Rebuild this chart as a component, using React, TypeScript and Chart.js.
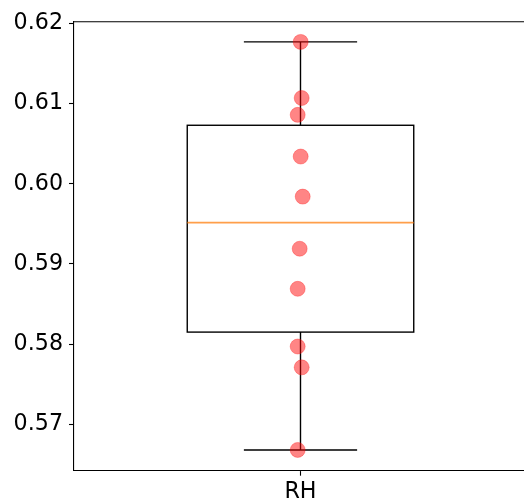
import React, { useEffect, useRef } from "react";
import { Chart, registerables } from "chart.js";

Chart.register(...registerables);

const categories = ["RH"];
const rhValues = [0.6177, 0.6107, 0.6086, 0.6034, 0.5984, 0.5919, 0.5869, 0.5797, 0.5771, 0.5668];
const rhJitter = [0.0004, 0.0026, -0.0062, 0.0004, 0.0049, -0.0018, -0.0062, -0.0062, 0.0026, -0.0062];
const yTicks = [0.57, 0.58, 0.59, 0.6, 0.61, 0.62];
const yMin = 0.56421;
const yMax = 0.62022;
const xMin = 0.5;
const xMax = 1.4934;

function quantile(sorted: number[], p: number) {
  const idx = (sorted.length - 1) * p;
  const lo = Math.floor(idx);
  const hi = Math.ceil(idx);
  return sorted[lo] + (sorted[hi] - sorted[lo]) * (idx - lo);
}

function boxStats(vals: number[]) {
  const s = [...vals].sort((a, b) => a - b);
  const q1 = quantile(s, 0.25);
  const med = quantile(s, 0.5);
  const q3 = quantile(s, 0.75);
  const iqr = q3 - q1;
  const lo = Math.min(...s.filter((v) => v >= q1 - 1.5 * iqr));
  const hi = Math.max(...s.filter((v) => v <= q3 + 1.5 * iqr));
  return { q1, med, q3, lo, hi };
}

const boxPlugin = {
  id: "boxPlugin",
  beforeDatasetsDraw(chart: any) {
    const { ctx, scales } = chart;
    const xs = scales.x;
    const ys = scales.y;
    const st = boxStats(rhValues);
    const c = 1;
    const bx0 = xs.getPixelForValue(c - 0.25);
    const bx1 = xs.getPixelForValue(c + 0.25);
    const cx0 = xs.getPixelForValue(c - 0.125);
    const cx1 = xs.getPixelForValue(c + 0.125);
    const cx = xs.getPixelForValue(c);
    const yq1 = ys.getPixelForValue(st.q1);
    const yq3 = ys.getPixelForValue(st.q3);
    const ymed = ys.getPixelForValue(st.med);
    const ylo = ys.getPixelForValue(st.lo);
    const yhi = ys.getPixelForValue(st.hi);
    ctx.save();
    ctx.strokeStyle = "#000";
    ctx.lineWidth = 1.4;
    ctx.strokeRect(bx0, yq3, bx1 - bx0, yq1 - yq3);
    ctx.beginPath();
    ctx.moveTo(cx, yq3);
    ctx.lineTo(cx, yhi);
    ctx.moveTo(cx0, yhi);
    ctx.lineTo(cx1, yhi);
    ctx.moveTo(cx, yq1);
    ctx.lineTo(cx, ylo);
    ctx.moveTo(cx0, ylo);
    ctx.lineTo(cx1, ylo);
    ctx.stroke();
    ctx.strokeStyle = "#ff7f0e";
    ctx.globalAlpha = 0.75;
    ctx.lineWidth = 1.6;
    ctx.beginPath();
    ctx.moveTo(bx0, ymed);
    ctx.lineTo(bx1, ymed);
    ctx.stroke();
    ctx.restore();
  },
  afterDraw(chart: any) {
    const { ctx, chartArea } = chart;
    ctx.save();
    ctx.strokeStyle = "#000";
    ctx.lineWidth = 1.1;
    ctx.beginPath();
    ctx.moveTo(chartArea.left, chartArea.top);
    ctx.lineTo(chartArea.right, chartArea.top);
    ctx.stroke();
    ctx.restore();
  },
};

export default function App() {
  const ref = useRef<HTMLCanvasElement>(null);
  useEffect(() => {
    if (!ref.current) return;
    const font = { family: "DejaVu Sans", size: 22.2 };
    const chart = new Chart(ref.current, {
      type: "scatter",
      data: {
        datasets: [
          {
            label: categories[0],
            data: rhValues.map((v, i) => ({ x: 1 + rhJitter[i], y: v })),
            backgroundColor: "rgba(255,0,0,0.48)",
            borderColor: "rgba(255,0,0,0.3)",
            borderWidth: 1,
            pointRadius: 7.5,
          },
        ],
      },
      options: {
        animation: false,
        responsive: false,
        maintainAspectRatio: false,
        layout: { autoPadding: false, padding: { top: 21.7, right: 0, left: 0, bottom: 0 } },
        plugins: { legend: { display: false }, tooltip: { enabled: false } },
        scales: {
          x: {
            type: "linear",
            min: xMin,
            max: xMax,
            afterBuildTicks: (s: any) => {
              s.ticks = categories.map((_, i) => ({ value: i + 1 }));
            },
            afterFit: (s: any) => {
              s.height = 28.3;
              s.paddingLeft = 0;
              s.paddingRight = 0;
            },
            ticks: {
              callback: (v: any) => categories[Math.round(Number(v)) - 1] ?? "",
              color: "#000",
              font,
              padding: 3,
              maxRotation: 0,
              autoSkip: false,
            },
            grid: { drawOnChartArea: false, drawTicks: true, tickLength: 5, tickColor: "#000", tickWidth: 1.1 },
            border: { display: true, color: "#000", width: 1.1 },
          },
          y: {
            type: "linear",
            min: yMin,
            max: yMax,
            afterBuildTicks: (s: any) => {
              s.ticks = yTicks.map((v) => ({ value: v }));
            },
            afterFit: (s: any) => {
              s.width = 74;
              s.paddingTop = 0;
              s.paddingBottom = 0;
            },
            ticks: {
              callback: (v: any) => Number(v).toFixed(2),
              color: "#000",
              font,
              padding: 6,
              autoSkip: false,
            },
            grid: { drawOnChartArea: false, drawTicks: true, tickLength: 5, tickColor: "#000", tickWidth: 1.1 },
            border: { display: true, color: "#000", width: 1.1 },
          },
        },
      },
      plugins: [boxPlugin],
    });
    return () => chart.destroy();
  }, []);
  return (
    <div style={{ position: "fixed", left: 0, top: 0, width: 524, height: 499, background: "#fff" }}>
      <canvas ref={ref} width={524} height={499} style={{ width: 524, height: 499, display: "block" }} />
    </div>
  );
}
